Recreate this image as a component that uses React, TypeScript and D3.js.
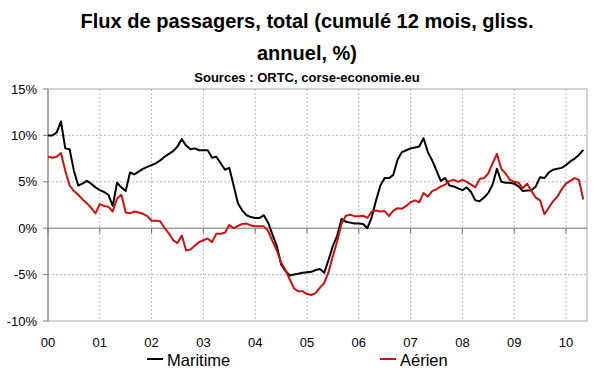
import React from "react";
import * as d3 from "d3";

const START_YEAR = 2000;
const yearTicks = [2000, 2001, 2002, 2003, 2004, 2005, 2006, 2007, 2008, 2009, 2010];
const yearLabels = ["00", "01", "02", "03", "04", "05", "06", "07", "08", "09", "10"];
const yTicks = [15, 10, 5, 0, -5, -10];
const yGrid = [10, 5, -5];

// Monthly values, Jan 2000 .. May 2010 (% change, 12-month cumulative)
const maritime = [
  10.0, 10.0, 10.3, 11.5, 8.6, 8.5, 6.2, 4.6, 4.8, 5.1, 4.8, 4.4,
  4.1, 3.9, 3.6, 2.4, 4.9, 4.4, 4.0, 6.0, 5.8, 6.1, 6.4, 6.6,
  6.8, 7.0, 7.3, 7.7, 8.0, 8.3, 8.8, 9.6, 8.9, 8.5, 8.6, 8.4,
  8.4, 8.4, 7.6, 7.7, 7.0, 6.3, 6.5, 4.6, 2.7, 1.9, 1.4, 1.2,
  1.1, 1.1, 1.4, 0.6, -0.7, -1.9, -3.9, -4.6, -5.1, -5.0, -4.9, -4.8,
  -4.75, -4.7, -4.5, -4.4, -4.8, -3.4, -1.9, -0.8, 1.0, 0.7, 0.6, 0.5,
  0.5, 0.45, 0.0, 1.2, 3.0, 4.6, 5.4, 5.4, 5.75, 7.4, 8.2, 8.4,
  8.6, 8.7, 8.8, 9.7, 8.2, 7.3, 6.2, 5.1, 5.4, 4.6, 4.5, 4.3,
  4.1, 4.4, 3.9, 3.0, 2.9, 3.3, 3.8, 4.7, 6.4, 5.0, 4.9, 4.9,
  4.8, 4.5, 4.0, 4.05, 4.1, 4.5, 5.5, 5.4, 6.0, 6.3, 6.4, 6.5,
  6.8, 7.2, 7.5, 7.9, 8.45,
];

const aerien = [
  7.7, 7.6, 7.7, 8.1, 6.2, 4.6, 4.0, 3.6, 3.1, 2.7, 2.2, 1.6,
  2.6, 2.4, 2.3, 1.8, 3.2, 3.6, 1.7, 1.6, 1.8, 1.7, 1.55, 1.3,
  0.8, 0.8, 0.75, 0.0, -0.55, -1.3, -1.6, -0.8, -2.4, -2.3, -1.9, -1.5,
  -1.3, -1.1, -1.5, -0.6, -0.6, -0.5, 0.35, 0.0, 0.25, 0.45, 0.5, 0.3,
  0.2, 0.2, 0.2, -0.3, -1.4, -2.4, -3.7, -4.5, -5.5, -6.5, -6.8, -6.8,
  -7.1, -7.2, -7.0, -6.4, -5.9, -4.7, -3.0, -1.4, 0.5, 1.35, 1.45, 1.3,
  1.3, 1.35, 1.1, 1.8, 1.9, 1.8, 1.85, 1.3, 1.9, 2.15, 2.1, 2.4,
  2.8, 3.0, 2.8, 3.8, 3.4, 4.0, 4.2, 4.5, 4.7, 5.1, 5.2, 5.0,
  5.2, 5.0, 4.7, 4.4, 5.3, 5.4, 5.9, 7.0, 8.0, 6.4, 5.9, 5.2,
  5.0, 4.9, 4.3, 4.8, 4.0, 3.3, 3.0, 1.5, 2.2, 2.9, 3.4, 4.2,
  4.8, 5.1, 5.4, 5.2, 3.1,
];

const seriesNames = ["Maritime", "Aérien"];
const seriesColors = ["#000000", "#cc1111"];

const FONT = "'Liberation Sans', Arial, Helvetica, sans-serif";

export default function App() {
  const W = 600;
  const H = 372;
  const left = 48;
  const right = 587;
  const top = 89;
  const bottom = 321;

  const x = d3.scaleLinear().domain([2000, 2010]).range([48, 566]);
  const y = d3.scaleLinear().domain([-10, 15]).range([bottom, top]);

  const line = d3
    .line<number>()
    .x((_, i) => x(START_YEAR + i / 12))
    .y((d) => y(d));

  const series = [maritime, aerien];

  return (
    <svg
      width={W}
      height={H}
      style={{ position: "absolute", left: 0, top: 0, background: "#fff" }}
      fontFamily={FONT}
    >
      <rect x={0} y={0} width={W} height={H} fill="#fff" />
      {/* Titles */}
      <text x={307} y={28} textAnchor="middle" fontSize={20} fontWeight="bold" fill="#000"
        textLength={453} lengthAdjust="spacingAndGlyphs">
        Flux de passagers, total (cumulé 12 mois, gliss.
      </text>
      <text x={307} y={60} textAnchor="middle" fontSize={20} fontWeight="bold" fill="#000">
        annuel, %)
      </text>
      <text x={307} y={82} textAnchor="middle" fontSize={13} fontWeight="bold" fill="#000">
        Sources : ORTC, corse-economie.eu
      </text>

      {/* Grid */}
      {yearTicks.slice(1).map((t) => (
        <line key={"vg" + t} x1={x(t)} x2={x(t)} y1={top} y2={bottom}
          stroke="#b8b8b8" strokeWidth={1} strokeDasharray="2,2" />
      ))}
      {yGrid.map((v) => (
        <line key={"hg" + v} x1={left} x2={right} y1={y(v)} y2={y(v)}
          stroke="#b8b8b8" strokeWidth={1} strokeDasharray="2,2" />
      ))}
      {/* Frame */}
      <rect x={left} y={top} width={right - left} height={bottom - top}
        fill="none" stroke="#a8a8a8" strokeWidth={1} />
      {/* Y axis */}
      <line x1={left} x2={left} y1={top} y2={bottom} stroke="#808080" strokeWidth={1} />
      {yTicks.map((v) => (
        <g key={"yt" + v}>
          <line x1={left - 5} x2={left} y1={y(v)} y2={y(v)} stroke="#808080" />
          <text x={37} y={y(v) + 4.5} textAnchor="end" fontSize={13} fill="#000">
            {v + "%"}
          </text>
        </g>
      ))}
      {/* Zero line with ticks */}
      <line x1={left} x2={right} y1={y(0)} y2={y(0)} stroke="#707070" strokeWidth={1} />
      {yearTicks.map((t) => (
        <line key={"xt" + t} x1={x(t)} x2={x(t)} y1={y(0)} y2={y(0) + 5} stroke="#707070" />
      ))}
      {/* X labels */}
      {yearTicks.map((t, i) => (
        <text key={"xl" + t} x={x(t)} y={347} textAnchor="middle" fontSize={13} fill="#000">
          {yearLabels[i]}
        </text>
      ))}

      {/* Series */}
      {series.map((s, k) => (
        <path key={"s" + k} d={line(s) || ""} fill="none" stroke={seriesColors[k]}
          strokeWidth={2} strokeLinejoin="round" />
      ))}

      {/* Legend */}
      {[147, 380].map((lx, k) => (
        <g key={"lg" + k}>
          <line x1={lx} x2={lx + 16} y1={359} y2={359} stroke={seriesColors[k]} strokeWidth={2} />
          <text x={lx + 20} y={366} fontSize={16.5} fill="#000">
            {seriesNames[k]}
          </text>
        </g>
      ))}
    </svg>
  );
}
